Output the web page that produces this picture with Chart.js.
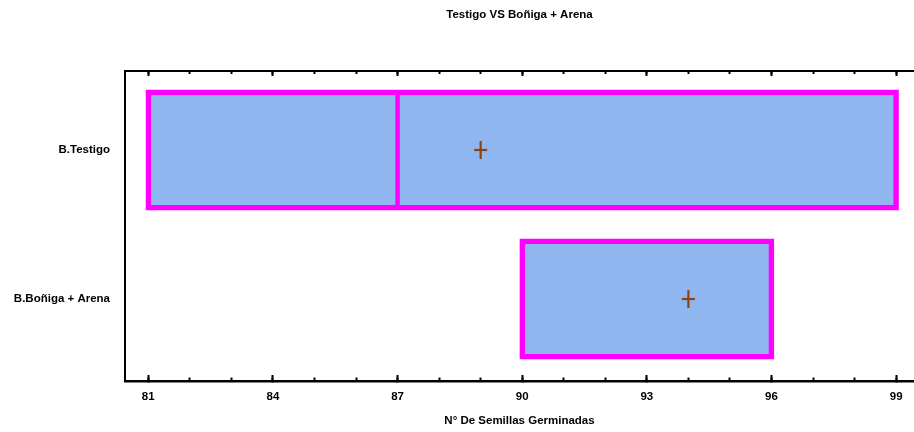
<!DOCTYPE html>
<html><head><meta charset="utf-8">
<script src="https://cdn.jsdelivr.net/npm/chart.js@4"></script>
<style>html,body{margin:0;padding:0;background:#fff}</style>
</head><body>
<canvas id="c" width="914" height="432" style="width:914px;height:432px;display:block"></canvas>
<script>
const categories = ['B.Testigo', 'B.Boñiga + Arena'];
const q1Values = [81, 90];
const q3Values = [99, 96];
const medianValues = [87, 90];
const meanValues = [89, 94];
const xTickLabels = [81, 84, 87, 90, 93, 96, 99];
const xMinorTicks = [81, 82, 83, 84, 85, 86, 87, 88, 89, 90, 91, 92, 93, 94, 95, 96, 97, 98, 99];

const FAMILY = "'Liberation Sans', Arial, sans-serif";
const font = { family: FAMILY, size: 11.5, weight: 'bold' };
const X_MIN = 80.44, X_MAX = 99.43;

const boxData = categories.map((c, i) => ({ x: [q1Values[i], q3Values[i]], y: i }));
const medianData = categories.map((c, i) => ({ x: medianValues[i], y: i }));
const meanData = categories.map((c, i) => ({ x: meanValues[i], y: i }));

function setTicks(list) { return s => { s.ticks = list.map(v => ({ value: v })); }; }
function fitH(h) { return s => { s.height = h; s.paddingLeft = 0; s.paddingRight = 0; }; }

new Chart(document.getElementById('c'), {
  type: 'bar',
  data: {
    datasets: [
      { type: 'bar', data: boxData, order: 3, backgroundColor: '#8FB6EE', borderColor: '#FF00FF',
        borderWidth: 5.5, borderSkipped: false, inflateAmount: 2.75, barThickness: 115.5,
        xAxisID: 'x', yAxisID: 'y' },
      { type: 'line', data: medianData, order: 2, showLine: false, pointStyle: 'line', rotation: 90,
        pointRadius: 57, pointBorderWidth: 4.5, pointBorderColor: '#FF00FF', pointBackgroundColor: '#FF00FF',
        xAxisID: 'x', yAxisID: 'y', clip: false },
      { type: 'line', data: meanData, order: 1, showLine: false, pointStyle: 'line', rotation: 0,
        pointRadius: 6.5, pointBorderWidth: 2.2, pointBorderColor: '#8B4513', xAxisID: 'x', yAxisID: 'y' },
      { type: 'line', data: meanData, order: 0, showLine: false, pointStyle: 'line', rotation: 90,
        pointRadius: 9, pointBorderWidth: 2.2, pointBorderColor: '#8B4513', xAxisID: 'x', yAxisID: 'y' }
    ]
  },
  options: {
    indexAxis: 'y',
    responsive: false,
    animation: false,
    devicePixelRatio: 1,
    layout: { padding: 0, autoPadding: false },
    plugins: {
      legend: { display: false },
      tooltip: { enabled: false },
      title: { display: true, text: 'Testigo VS Boñiga + Arena', color: '#000', font: font,
        fullSize: false, padding: { top: 8.1, bottom: 49.1 } }
    },
    scales: {
      y: {
        type: 'linear', position: 'left', reverse: true, min: -0.53, max: 1.55, offset: false,
        afterBuildTicks: s => { s.ticks = categories.map((c, i) => ({ value: i })); },
        afterFit: s => { s.width = 125; s.paddingTop = 0; s.paddingBottom = 0; },
        ticks: { callback: v => categories[v], padding: 15, color: '#000', font: font, autoSkip: false },
        grid: { display: false, drawTicks: false, offset: false },
        border: { display: true, color: '#000', width: 2 }
      },
      x: {
        type: 'linear', position: 'bottom', min: X_MIN, max: X_MAX, weight: 1, offset: false,
        afterBuildTicks: setTicks(xTickLabels),
        afterFit: fitH(51),
        ticks: { padding: 14.6, color: '#000', font: font, autoSkip: false, maxRotation: 0 },
        grid: { drawOnChartArea: false, drawTicks: true, tickLength: -6, tickWidth: 2, tickColor: '#000' },
        border: { display: true, color: '#000', width: 2.5 },
        title: { display: true, text: 'N° De Semillas Germinadas', color: '#000', font: font, padding: { top: 0, bottom: 4.1 } }
      },
      xMinor: {
        type: 'linear', position: 'bottom', min: X_MIN, max: X_MAX, weight: 0, offset: false,
        afterBuildTicks: setTicks(xMinorTicks),
        afterFit: fitH(0),
        ticks: { display: false },
        grid: { drawOnChartArea: false, drawTicks: true, tickLength: -3.5, tickWidth: 2, tickColor: '#000' },
        border: { display: false }
      },
      xTop: {
        type: 'linear', position: 'top', min: X_MIN, max: X_MAX, weight: 1, offset: false,
        afterBuildTicks: setTicks(xTickLabels),
        afterFit: fitH(0),
        ticks: { display: false },
        grid: { drawOnChartArea: false, drawTicks: true, tickLength: -5, tickWidth: 2, tickColor: '#000' },
        border: { display: true, color: '#000', width: 2 }
      },
      xTopMinor: {
        type: 'linear', position: 'top', min: X_MIN, max: X_MAX, weight: 0, offset: false,
        afterBuildTicks: setTicks(xMinorTicks),
        afterFit: fitH(0),
        ticks: { display: false },
        grid: { drawOnChartArea: false, drawTicks: true, tickLength: -3, tickWidth: 2, tickColor: '#000' },
        border: { display: false }
      }
    }
  }
});
</script>
</body></html>
